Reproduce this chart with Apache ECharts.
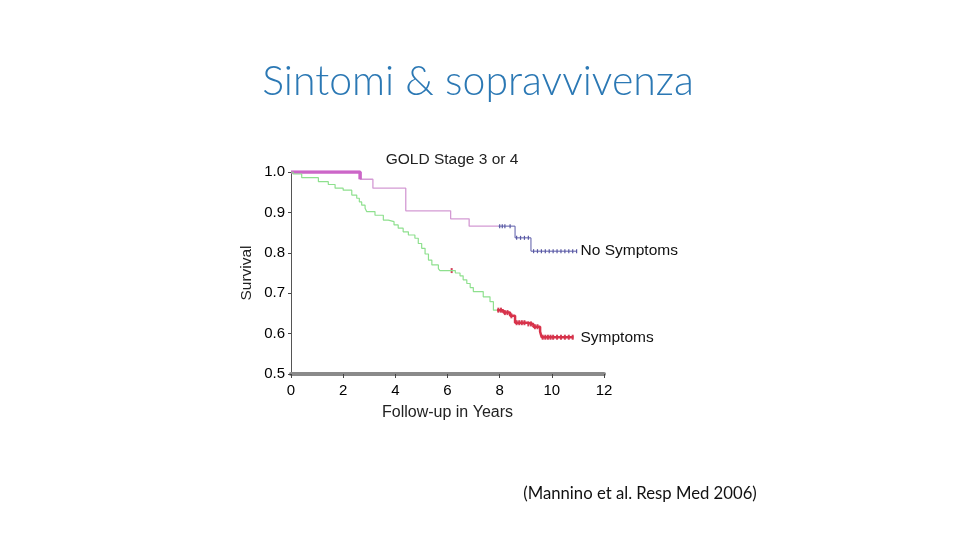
<!DOCTYPE html>
<html><head><meta charset="utf-8">
<script src="https://cdn.jsdelivr.net/npm/echarts@6/dist/echarts.min.js"></script>
<style>html,body{margin:0;padding:0;background:#fff}#c{width:960px;height:540px}</style>
</head><body><div id="c"></div>
<script>
// No Symptoms: Kaplan-Meier step points [years, survival]
var noSymTimes = [0, 2.65, 3.14, 4.40, 6.12, 6.83, 8.59, 9.20, 10.95];
var noSymSurv  = [1.0, 0.982, 0.960, 0.904, 0.884, 0.866, 0.837, 0.804, 0.804];
var noSymBlueFrom = 7.95;
var noSymEarlyTo = 2.65;
var noSymCensor = [[8.0,0.866],[8.1,0.866],[8.2,0.866],[8.4,0.866],[8.65,0.837],[8.8,0.837],[8.95,0.837],[9.1,0.837],
  [9.3,0.804],[9.45,0.804],[9.6,0.804],[9.75,0.804],[9.9,0.804],[10.05,0.804],[10.2,0.804],[10.35,0.804],[10.5,0.804],[10.65,0.804],[10.8,0.804],[10.95,0.804]];

// Symptoms
var symTimes = [0, 0.08, 0.41, 1.05, 1.43, 1.69, 2.0, 2.33, 2.52, 2.62, 2.71, 2.84, 2.90, 3.22, 3.54, 3.73, 3.95, 4.11, 4.30, 4.50, 4.75, 4.88, 5.01, 5.14, 5.27, 5.40, 5.65, 5.71, 6.30, 6.48, 6.60, 6.74, 6.87, 6.99, 7.37, 7.63, 7.76, 8.14, 8.40, 8.59, 9.03, 9.29, 9.55, 9.61, 10.83];
var symSurv  = [1.0, 0.995, 0.986, 0.976, 0.969, 0.960, 0.955, 0.943, 0.935, 0.926, 0.918, 0.910, 0.902, 0.893, 0.881, 0.877, 0.869, 0.861, 0.852, 0.844, 0.836, 0.823, 0.811, 0.797, 0.782, 0.770, 0.761, 0.756, 0.750, 0.743, 0.733, 0.724, 0.714, 0.704, 0.691, 0.679, 0.658, 0.652, 0.644, 0.627, 0.624, 0.617, 0.605, 0.591, 0.591];
var symRedFrom = 7.90;
var symCensor = [[6.16,0.756],[7.95,0.658],[8.05,0.658],[8.2,0.652],[8.3,0.652],[8.45,0.644],[8.65,0.627],[8.75,0.627],[8.85,0.627],[8.95,0.627],
  [9.1,0.624],[9.2,0.624],[9.35,0.617],[9.45,0.617],[9.65,0.591],[9.75,0.591],[9.85,0.591],[9.95,0.591],[10.05,0.591],[10.2,0.591],[10.35,0.591],[10.5,0.591],[10.65,0.591],[10.8,0.591]];

var xTicks = [0, 2, 4, 6, 8, 10, 12];

function valueAt(ts, vs, t){ var v = vs[0]; for (var i=0;i<ts.length;i++){ if (ts[i] <= t) v = vs[i]; } return v; }
function slice(ts, vs, a, b){
  var out = [[a, valueAt(ts, vs, a)]];
  for (var i=0;i<ts.length;i++){ if (ts[i] > a && ts[i] < b) out.push([ts[i], vs[i]]); }
  out.push([b, valueAt(ts, vs, b)]);
  return out;
}
var noSymEnd = noSymTimes[noSymTimes.length-1];
var symEnd = symTimes[symTimes.length-1];

var chart = echarts.init(document.getElementById('c'));
chart.setOption({
  animation: false,
  title: [
    {text: 'Sintomi & sopravvivenza', left: 473, top: 56, textAlign: 'center',
     textStyle: {fontFamily: 'Lato', fontWeight: 300, fontSize: 41, color: '#2b78b4'}},
    {text: 'GOLD Stage 3 or 4', left: 447, top: 147, textAlign: 'center',
     textStyle: {fontFamily: 'Liberation Sans', fontWeight: 'normal', fontSize: 15.5, color: '#222'}},
    {text: '(Mannino et al. Resp Med 2006)', left: 635, top: 480, textAlign: 'center',
     textStyle: {fontFamily: 'Lato', fontWeight: 'normal', fontSize: 16.7, color: '#111'}}
  ],
  grid: {left: 291, right: 356, top: 172, bottom: 166},
  xAxis: {
    type: 'value', min: 0, max: 12, interval: 2,
    name: 'Follow-up in Years', nameLocation: 'middle', nameGap: 31,
    nameTextStyle: {fontFamily: 'Liberation Sans', fontSize: 16, color: '#222'},
    axisLine: {show: true, onZero: false, lineStyle: {color: '#8a8a8a', width: 4}},
    axisTick: {show: true, length: 4, lineStyle: {color: '#444'}},
    axisLabel: {fontFamily: 'Liberation Sans', fontSize: 15, color: '#000', margin: 9,
      formatter: function(v){ return xTicks.indexOf(v) >= 0 ? String(v) : ''; }},
    splitLine: {show: false}
  },
  yAxis: {
    type: 'value', min: 0.5, max: 1.0, interval: 0.1, offset: 2,
    name: 'Survival', nameLocation: 'middle', nameGap: 34, nameRotate: 90,
    nameTextStyle: {fontFamily: 'Liberation Sans', fontSize: 15.5, color: '#222'},
    axisLine: {show: true, lineStyle: {color: '#555', width: 1}},
    axisTick: {show: true, length: 3, lineStyle: {color: '#444'}},
    axisLabel: {fontFamily: 'Liberation Sans', fontSize: 15, color: '#000', margin: 4,
      formatter: function(v){ return v.toFixed(1); }},
    splitLine: {show: false}
  },
  series: [
    {name: 'No Symptoms', type: 'line', step: 'end', symbol: 'none',
     data: slice(noSymTimes, noSymSurv, 0, noSymBlueFrom),
     lineStyle: {color: '#d49ad4', width: 1.3}},
    {name: 'noSymEarly', type: 'line', step: 'end', symbol: 'none',
     data: slice(noSymTimes, noSymSurv, 0, noSymEarlyTo),
     lineStyle: {color: '#cc66c8', width: 3.5}},
    {name: 'No Symptoms', type: 'line', step: 'end', symbol: 'none',
     data: slice(noSymTimes, noSymSurv, noSymBlueFrom, noSymEnd),
     lineStyle: {color: '#5a5aa8', width: 1},
     endLabel: {show: true, formatter: 'No Symptoms', distance: 4,
       fontFamily: 'Liberation Sans', fontSize: 15.5, color: '#111'}},
    {name: 'noSymCensor', type: 'scatter', symbol: 'rect', symbolSize: [1.2, 4],
     data: noSymCensor, itemStyle: {color: '#30308a'}},
    {name: 'Symptoms', type: 'line', step: 'end', symbol: 'none',
     data: slice(symTimes, symSurv, 0, symRedFrom),
     lineStyle: {color: '#8ee08e', width: 1.2}},
    {name: 'Symptoms', type: 'line', step: 'end', symbol: 'none',
     data: slice(symTimes, symSurv, symRedFrom, symEnd),
     lineStyle: {color: '#d8324a', width: 2.5},
     endLabel: {show: true, formatter: 'Symptoms', distance: 7,
       fontFamily: 'Liberation Sans', fontSize: 15.5, color: '#111'}},
    {name: 'symCensor', type: 'scatter', symbol: 'rect', symbolSize: [2, 5],
     data: symCensor, itemStyle: {color: '#c8102e'}}
  ]
});
</script></body></html>
